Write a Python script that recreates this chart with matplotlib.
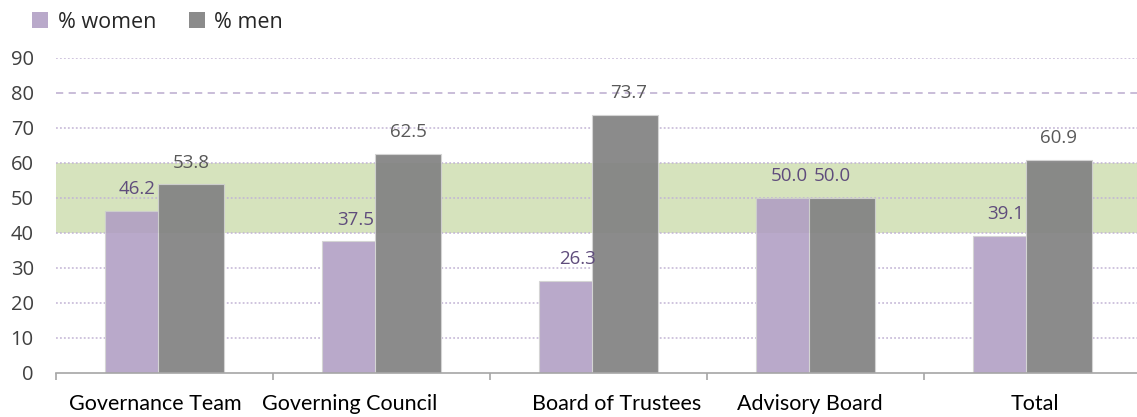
import matplotlib
matplotlib.use("Agg")
import matplotlib.pyplot as plt
import matplotlib.transforms as mtransforms
from matplotlib.patches import Patch
import numpy as np

categories = ["Governance Team", "Governing Council", "Board of Trustees", "Advisory Board", "Total"]
women = [46.2, 37.5, 26.3, 50.0, 39.1]
men = [53.8, 62.5, 73.7, 50.0, 60.9]
series_names = ["% women", "% men"]
yticks = [0, 10, 20, 30, 40, 50, 60, 70, 80, 90]
band_low, band_high = 40, 60

W, H = 1137, 417
fig = plt.figure(figsize=(W / 100, H / 100), dpi=100)
ax = fig.add_axes([56 / W, (H - 372.7) / H, 1085 / W, 315 / H])

c_women = "#b9a9ca"
c_men = "#8b8b8b"
lab_purple = "#5f4c7c"
lab_gray = "#595959"
num_font = "Open Sans"
lab_font = "Lato"

x = np.arange(len(categories))
bw = 0.30
off = 0.122

# band below
ax.axhspan(band_low, band_high, color="#deebc4", zorder=0.5, lw=0)
# grid
for v in yticks[1:]:
    if v == 80:
        ax.axhline(v, color="#c5b8d6", lw=1.3, ls=(0, (4, 3)), zorder=1)
    else:
        ax.axhline(v, color="#cbbfdb", lw=1.3, ls=(0, (1, 1.2)), zorder=1)

ax.bar(x - off, women, bw, color=c_women, edgecolor="#d4d4d4", lw=0.8, zorder=2)
ax.bar(x + off, men, bw, color=c_men, edgecolor="#d4d4d4", lw=0.8, zorder=2.1)
# subtle overlay of band
ax.axhspan(band_low, band_high, color="#646e50", alpha=0.06, zorder=3, lw=0)

# small pixel shifts of data labels, as placed in the original
women_dx = [-1, 1, 5, 0, 0]
men_dx = [0, 0, 4, -10, 0]
men_lab_colors = [lab_gray, lab_gray, lab_gray, lab_purple, lab_gray]
for xi, v, dx in zip(x, women, women_dx):
    ax.annotate(f"{v:.1f}", (xi - off, v), xytext=(dx * 0.72, 15.5), textcoords="offset points",
                ha="center", va="center", fontsize=13.5, color=lab_purple, family=num_font, zorder=4)
for xi, v, dx, col in zip(x, men, men_dx, men_lab_colors):
    ax.annotate(f"{v:.1f}", (xi + off, v), xytext=(dx * 0.72, 15.5), textcoords="offset points",
                ha="center", va="center", fontsize=13.5, color=col, family=num_font, zorder=4)

ax.set_xlim(-0.5, len(categories) - 0.5)
ax.set_ylim(0, 90)
ax.set_yticks(yticks)
ax.set_yticklabels([str(v) for v in yticks], family=num_font, fontsize=14.5, color="#404040")
ax.tick_params(axis="y", length=0, pad=16)

ax.set_xticks(np.arange(len(categories) + 1) - 0.5)
ax.set_xticklabels([])
ax.tick_params(axis="x", which="major", length=5, color="#a6a6a6", width=1.2, direction="out")
ax.set_xticks(x, minor=True)
ax.set_xticklabels(categories, minor=True, family=lab_font, fontsize=15.5, color="#000000")
ax.tick_params(axis="x", which="minor", length=0, pad=15)

label_dx = [-9, -32, 18, -6, 2]
for lbl, dx in zip(ax.get_xticklabels(minor=True), label_dx):
    lbl.set_transform(lbl.get_transform() + mtransforms.ScaledTranslation(dx / 100, 0, fig.dpi_scale_trans))

for s in ["top", "right", "left"]:
    ax.spines[s].set_visible(False)
ax.spines["bottom"].set_color("#a6a6a6")
ax.spines["bottom"].set_linewidth(1.2)
ax.spines["bottom"].set_zorder(5)

handles = [Patch(facecolor=c_women, edgecolor="none"), Patch(facecolor=c_men, edgecolor="none")]
fig.legend(handles, series_names, loc="center left", bbox_to_anchor=(32 / W, 1 - 22 / H),
           ncol=2, frameon=False, handlelength=0.75, handleheight=0.75, handletextpad=0.45,
           columnspacing=1.5, borderpad=0, borderaxespad=0,
           prop={"family": num_font, "size": 15.5}, labelcolor="#262626")

fig.savefig("out.png", dpi=100)
